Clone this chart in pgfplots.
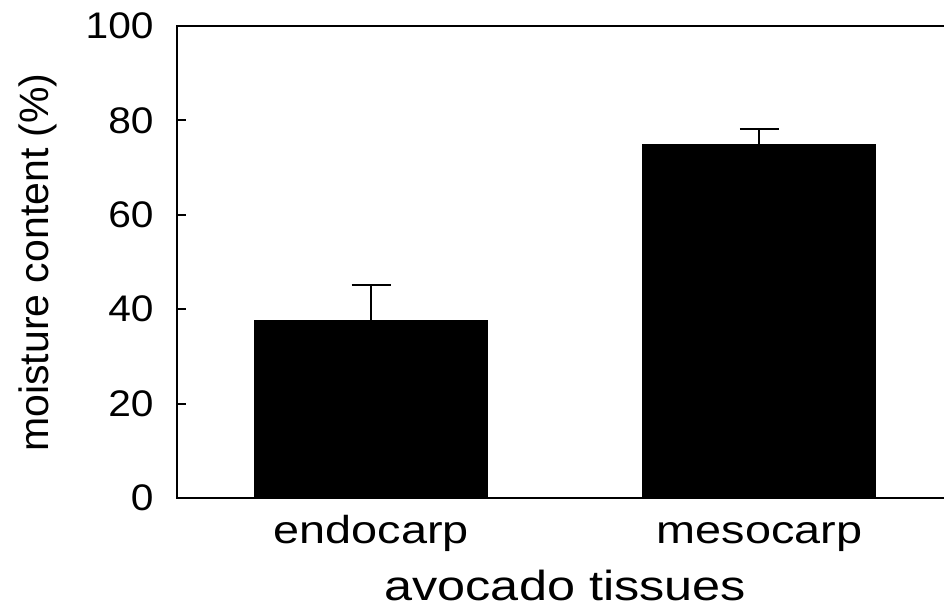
\documentclass[border=0pt]{standalone}
\usepackage{fontspec}
\setmainfont{Liberation Sans}
\usepackage{pgfplots}
\pgfplotsset{compat=1.18}
\begin{document}
\begin{tikzpicture}
\begin{axis}[
  at={(0,0)}, anchor=south west,
  scale only axis,
  width=388.25pt, height=236pt,
  xmin=-0.5, xmax=1.5,
  ymin=0, ymax=100,
  ytick={0,20,40,60,80,100},
  ytick pos=left,
  tick align=inside,
  major tick length=4.5pt,
  xtick={0,1},
  xticklabels={endocarp,mesocarp},
  xtick style={draw=none},
  axis line style={line width=1pt},
  every tick/.style={line width=1pt, black},
  /pgf/number format/assume math mode=true,
  yticklabel style={font=\fontsize{18.5}{20}\selectfont, anchor=east, inner sep=0pt, xshift=-11.5pt, xscale=1.1},
  xticklabel style={font=\fontsize{19.5}{22}\selectfont, anchor=base, inner sep=0pt, yshift=-22.5pt, xscale=1.2},
  xlabel={avocado tissues},
  xlabel style={font=\fontsize{21}{24}\selectfont, at={(axis description cs:0.5,0)}, anchor=base, inner sep=0pt, yshift=-51pt, xscale=1.2},
  ylabel={moisture content (\%)},
  ylabel style={font=\fontsize{20.5}{24}\selectfont, at={(axis description cs:0,0.499)}, anchor=center, inner sep=0pt, yshift=69.5pt},
]
\addplot[ybar, bar width=116.5pt, fill=black, draw=black,
  error bars/.cd, y dir=plus, y explicit,
  error bar style={line width=1pt, black},
  error mark options={rotate=90, mark size=9.75pt, line width=1pt, black}]
  coordinates {(0,37.7) +- (0,7.4) (1,75.0) +- (0,3.2)};
\end{axis}
\pgfresetboundingbox
\path[use as bounding box] (-88.5pt,-54.5pt) rectangle (383.5pt,249pt);
\end{tikzpicture}
\end{document}
